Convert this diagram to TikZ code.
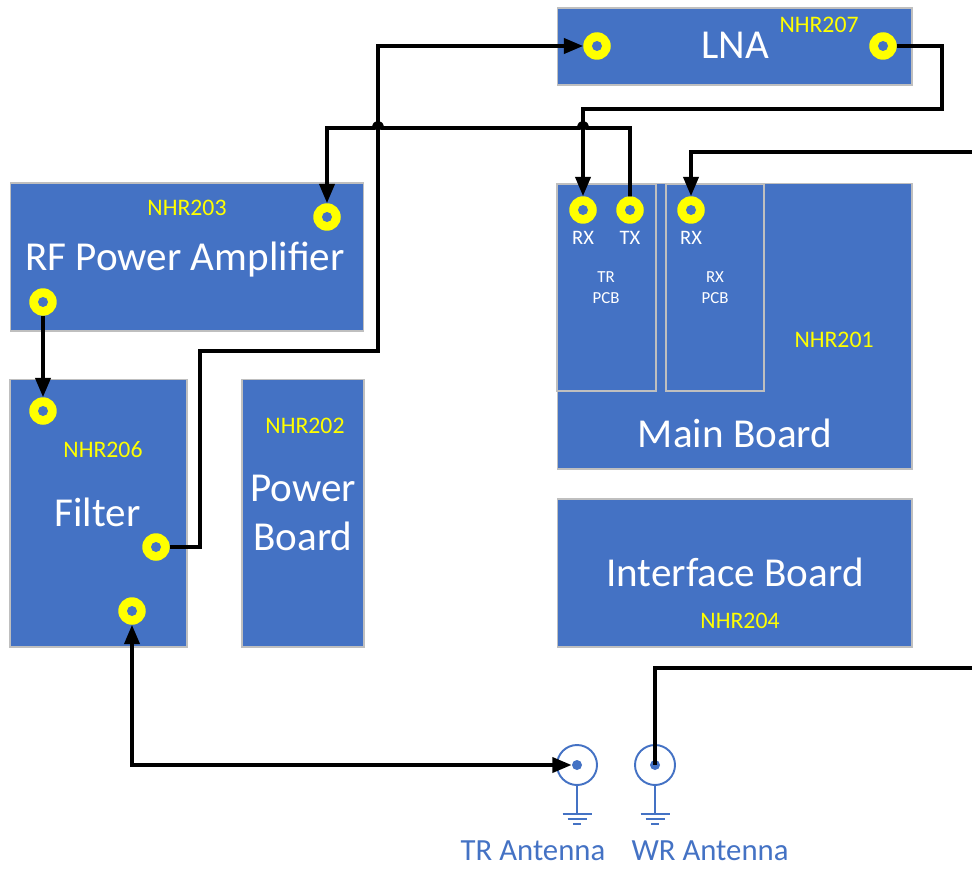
\documentclass[tikz,border=0pt]{standalone}
\usepackage{fontspec}
\setmainfont{Carlito}
\usetikzlibrary{arrows.meta}

\definecolor{boardblue}{HTML}{4472C4}
\definecolor{padyellow}{HTML}{FFFF00}

\begin{document}
\begin{tikzpicture}[
    x=0.02cm, y=-0.02cm,
    board/.style={rectangle, draw=black!25, line width=0.6pt, fill=boardblue, inner sep=0pt, outer sep=0pt},
    pcb/.style={rectangle, draw=black!25, line width=0.6pt, inner sep=0pt, outer sep=0pt},
    pad/.style={circle, fill=padyellow, minimum size=0.55cm, inner sep=0pt, outer sep=0pt,
      path picture={\fill[boardblue] (path picture bounding box.center) circle (0.1cm);}},
    bigtxt/.style={anchor=base, inner sep=0pt, text=white, font=\fontsize{23.4pt}{28pt}\selectfont},
    reftxt/.style={anchor=base, inner sep=0pt, text=padyellow, font=\fontsize{13.5pt}{16pt}\selectfont},
    porttxt/.style={anchor=base, inner sep=0pt, text=white, font=\fontsize{11.7pt}{14pt}\selectfont},
    pcbtxt/.style={anchor=base, inner sep=0pt, text=white, font=\fontsize{9.6pt}{12pt}\selectfont},
    anttxt/.style={anchor=base, inner sep=0pt, text=boardblue, font=\fontsize{17.5pt}{21pt}\selectfont},
    antenna/.style={circle, draw=boardblue, line width=1.1pt, minimum size=0.8cm, inner sep=0pt},
    antdot/.style={circle, fill=boardblue, minimum size=0.2cm, inner sep=0pt},
    gnd/.style={draw=boardblue, line width=1.1pt},
    wire/.style={-{Triangle[length=11pt,width=8.5pt]}, line width=2.2pt, black},
  ]
    \useasboundingbox (0,0) rectangle (972,868);

    % boards
    \node[board, minimum width=7.1cm, minimum height=1.54cm] (lna) at (734.5,46.5) {};
    \node[board, minimum width=7.08cm, minimum height=2.96cm] (pa) at (187,257) {};
    \node[board, minimum width=3.54cm, minimum height=5.36cm] (filter) at (98.5,513) {};
    \node[board, minimum width=2.44cm, minimum height=5.36cm] (power) at (303,513) {};
    \node[board, minimum width=7.1cm, minimum height=5.72cm] (main) at (734.5,326) {};
    \node[board, minimum width=7.1cm, minimum height=2.96cm] (iface) at (734.5,573) {};
    \node[pcb, minimum width=1.98cm, minimum height=4.14cm] (trpcb) at (606.5,287.5) {};
    \node[pcb, minimum width=1.96cm, minimum height=4.14cm] (rxpcb) at (715,287.5) {};

    % connector pads
    \node[pad] (lnaIn) at (597,46) {};
    \node[pad] (lnaOut) at (883,46) {};
    \node[pad] (paIn) at (327,217) {};
    \node[pad] (paOut) at (43,302) {};
    \node[pad] (filtIn) at (43,411) {};
    \node[pad] (filtOut) at (156,547) {};
    \node[pad] (filtAnt) at (132,611) {};
    \node[pad] (trRx) at (583,210) {};
    \node[pad] (trTx) at (630,210) {};
    \node[pad] (rxRx) at (691,210) {};

    % labels
    \node[bigtxt] (lnaName) at (735,59) {LNA};
    \node[reftxt] (lnaRef) at (819,33) {NHR207};
    \node[reftxt] (paRef) at (187,215) {NHR203};
    \node[bigtxt] (paName) at (185,270) {RF Power Amplifier};
    \node[reftxt] (filtRef) at (103,457) {NHR206};
    \node[bigtxt] (filtName) at (97.5,526) {Filter};
    \node[reftxt] (powRef) at (305,433) {NHR202};
    \node[bigtxt] (powName1) at (303,501) {Power};
    \node[bigtxt] (powName2) at (303,550) {Board};
    \node[reftxt] (mainRef) at (834,347) {NHR201};
    \node[bigtxt] (mainName) at (735,447) {Main Board};
    \node[bigtxt] (ifaceName) at (735,586) {Interface Board};
    \node[reftxt] (ifaceRef) at (740,628) {NHR204};
    \node[porttxt] (trRxLbl) at (583,244) {RX};
    \node[porttxt] (trTxLbl) at (630,244) {TX};
    \node[porttxt] (rxRxLbl) at (691,244) {RX};
    \node[pcbtxt] (trpcb1) at (606,282) {TR};
    \node[pcbtxt] (trpcb2) at (606,303) {PCB};
    \node[pcbtxt] (rxpcb1) at (715,282) {RX};
    \node[pcbtxt] (rxpcb2) at (715,303) {PCB};

    % antennas
    \node[antenna] (trAnt) at (577,765) {};
    \node[antdot] (trDot) at (577,765) {};
    \node[antenna] (wrAnt) at (655,765) {};
    \node[antdot] (wrDot) at (655,765) {};
    \foreach \ant in {trAnt, wrAnt} {
      \draw[gnd] (\ant.south) -- ++(0,28) coordinate (\ant G);
      \draw[gnd, line width=1.6pt] (\ant G) ++(-14.5,0) -- ++(29,0);
      \draw[gnd, line width=1.6pt] (\ant G) ++(-9.5,5) -- ++(19,0);
      \draw[gnd, line width=1.6pt] (\ant G) ++(-4,10) -- ++(8,0);
    }
    \node[anttxt] (trAntLbl) at (533,860) {TR Antenna};
    \node[anttxt] (wrAntLbl) at (710,860) {WR Antenna};

    % cables
    \coordinate (rxFeed) at (975,152);
    \coordinate (wrFeed) at (975,668);
    \draw[wire] (filtOut) -- (200,547) |- (378,351) |- (lnaIn);
    \draw[wire] (lnaOut) -| (942,109) -| (trRx);
    \draw[wire] (trTx) |- (587,128) .. controls (587,121) and (579,121) .. (579,128)
      -- (382,128) .. controls (382,121) and (374,121) .. (374,128) -| (paIn);
    \draw[wire] (paOut) -- (filtIn);
    \draw[wire, {Triangle[length=11pt,width=8.5pt]}-{Triangle[length=11pt,width=8.5pt]}] (filtAnt) |- (trDot);
    \draw[wire] (rxFeed) -| (rxRx);
    \draw[wire, -] (wrFeed) -| (wrDot.center);
  \end{tikzpicture}
\end{document}
